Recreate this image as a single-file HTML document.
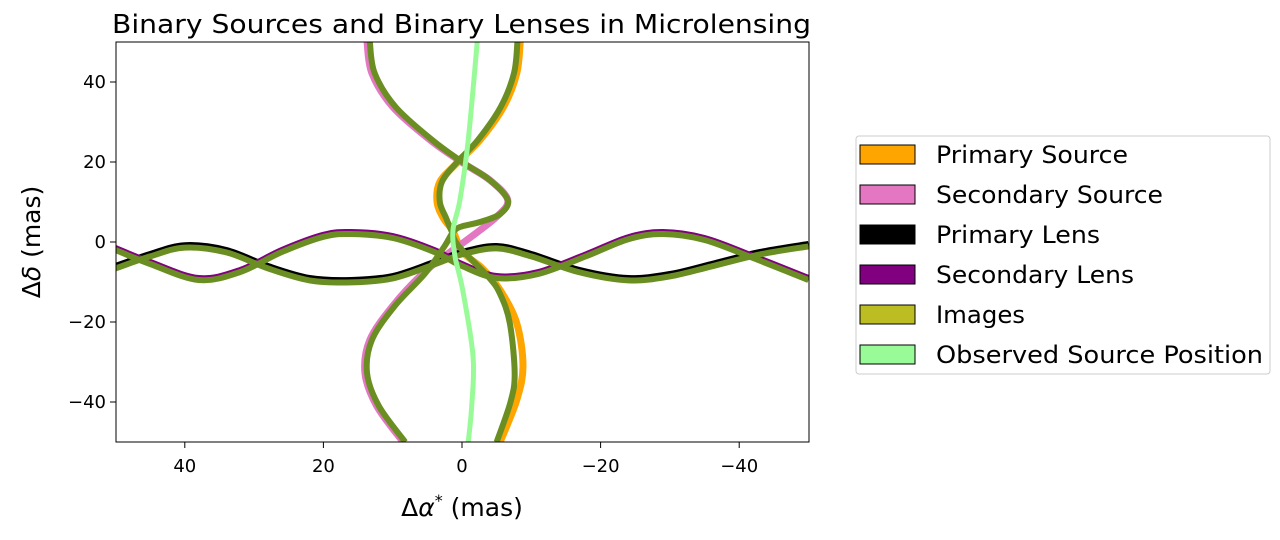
<!DOCTYPE html>
<html><head><meta charset="utf-8"><style>
body{margin:0;background:#fff;font-family:"Liberation Sans","DejaVu Sans",sans-serif;}
</style></head><body>
<svg id="c" width="1280" height="535" xmlns="http://www.w3.org/2000/svg" style="font-family:'DejaVu Sans','Liberation Sans',sans-serif">
<text x="112" y="33" font-size="26" fill="#000" textLength="699" lengthAdjust="spacingAndGlyphs">Binary Sources and Binary Lenses in Microlensing</text>
<g id="plot"></g>
<g id="axes"></g>
<g font-size="24">
<rect x="856" y="136" width="414" height="238" fill="#fff" stroke="#ccc" rx="3"/>
<g><rect x="860" y="145" width="55" height="19" fill="#ffa500" stroke="#000"/><text x="936" y="163" textLength="192" lengthAdjust="spacingAndGlyphs">Primary Source</text></g>
<g><rect x="860" y="185" width="55" height="19" fill="#e377c2" stroke="#000"/><text x="936" y="203" textLength="227" lengthAdjust="spacingAndGlyphs">Secondary Source</text></g>
<g><rect x="860" y="225" width="55" height="19" fill="#000" stroke="#000"/><text x="936" y="243" textLength="164" lengthAdjust="spacingAndGlyphs">Primary Lens</text></g>
<g><rect x="860" y="265" width="55" height="19" fill="#800080" stroke="#000"/><text x="936" y="283" textLength="198" lengthAdjust="spacingAndGlyphs">Secondary Lens</text></g>
<g><rect x="860" y="305" width="55" height="19" fill="#bcbd22" stroke="#000"/><text x="936" y="323" textLength="89" lengthAdjust="spacingAndGlyphs">Images</text></g>
<g><rect x="860" y="345" width="55" height="19" fill="#98fb98" stroke="#000"/><text x="936" y="363" textLength="327" lengthAdjust="spacingAndGlyphs">Observed Source Position</text></g>
</g>
</svg>
<script>
const xTicks=[40,20,0,-20,-40];
const yTicks=[40,20,0,-20,-40];
// [x,y] data points (mas)
const primaryLens=[[50,-6],[45,-3],[40,-0.8],[34,-2],[28,-6],[22,-9],[16,-9.5],[10,-8.5],[4,-5],[0,-2.5],[-5,-1],[-10,-3],[-17,-7],[-24,-9],[-30,-8],[-36,-5.5],[-43,-2.5],[-50,-0.5]];
const secondaryLens=[[50,-1.5],[45,-5],[38,-9],[32,-7],[26,-2],[20,1.8],[16,2.5],[10,1.5],[4,-2],[0,-5.5],[-5,-8.5],[-11,-7.5],[-18,-3],[-24,1.2],[-29,2.5],[-35,1],[-42,-3.5],[-50,-9]];
const primarySource=[[-8.4,50],[-7.9,42.2],[-6,33.8],[-2.6,25.5],[0.7,19.8],[3.2,15],[3.6,10],[2.7,6],[1.3,2.7],[-0.1,-2.5],[-3,-6.7],[-5.5,-12],[-7.9,-20.3],[-8.8,-31],[-7.9,-39.5],[-5.5,-50]];
const secondarySource=[[13.7,50],[13,42.2],[10,33.8],[4.6,25.5],[-0.1,19.8],[-4,15.5],[-6.6,10.5],[-5,6.3],[-0.7,0.5],[1.7,-2.5],[5.6,-7.8],[10,-16],[13.3,-24.5],[14,-32.8],[12.3,-41],[8.5,-50]];
const observedSource=[[-2.2,50],[-0.9,25.5],[0.3,10.5],[1.3,3],[1,-3.7],[-0.1,-12],[-1.6,-28.7],[-1.4,-41],[-0.9,-50]];
const imagesA=[[13.3,50],[12.6,42.2],[9.6,33.8],[4.3,25.5],[-0.2,19.8],[-4,15.5],[-6.6,10.5],[-5.5,7],[-2.6,5],[0.3,3.75],[1.4,2.2],[2.5,-1],[5.3,-7.8],[9.7,-16],[13,-24.5],[13.7,-32.8],[12,-41],[8.2,-50]];
const imagesB=[[-8,50],[-7.5,42.2],[-5.6,33.8],[-2.3,25.5],[0.8,19.8],[2.9,15],[3.2,10],[2.3,6],[1.5,2.7],[0.5,-1],[-3.8,-8.7],[-5.5,-13],[-6.9,-20.3],[-7.6,-32.8],[-7,-40],[-5,-50]];
const X0=462,SX=6.93,Y0=242,SY=4;
const sx=v=>X0-SX*v, sy=v=>Y0-SY*v;
const NS="http://www.w3.org/2000/svg";
function path(pts){
 const p=pts.map(d=>[sx(d[0]),sy(d[1])]);
 let s="M"+p[0][0]+","+p[0][1];
 for(let i=0;i<p.length-1;i++){
  const a=p[i-1]||p[i],b=p[i],c=p[i+1],d=p[i+2]||c;
  s+=" C"+(b[0]+(c[0]-a[0])/6)+","+(b[1]+(c[1]-a[1])/6)+" "+(c[0]-(d[0]-b[0])/6)+","+(c[1]-(d[1]-b[1])/6)+" "+c[0]+","+c[1];
 }
 return s;
}
const plot=document.getElementById('plot');
const clip=document.createElementNS(NS,'clipPath');clip.id='cp';
const cr=document.createElementNS(NS,'rect');cr.setAttribute('x',116);cr.setAttribute('y',42);cr.setAttribute('width',693);cr.setAttribute('height',400);
clip.appendChild(cr);document.getElementById('c').appendChild(clip);
plot.setAttribute('clip-path','url(#cp)');
function line(pts,col,w,name){
 const e=document.createElementNS(NS,'path');
 e.setAttribute('d',path(pts));e.setAttribute('fill','none');e.setAttribute('stroke',col);e.setAttribute('stroke-width',w);
 
 
 plot.appendChild(e);
}
line(primarySource,'#ffa500',7,'primary-source-track');
line(secondarySource,'#e377c2',7,'secondary-source-track');
line(primaryLens,'#000',6,'primary-lens-track');
line(secondaryLens,'#800080',6,'secondary-lens-track');
line(primaryLens.map(d=>[d[0],d[1]-0.6]),'#6b8e23',6,'images-track-lens1');
line(secondaryLens.map(d=>[d[0],d[1]-0.5]),'#6b8e23',6,'images-track-lens2');
line(imagesA,'#6b8e23',6,'images-track-a');
line(imagesB,'#6b8e23',6,'images-track-b');
line(observedSource,'#98fb98',5,'observed-source-track');
const ax=document.getElementById('axes');
const fr=document.createElementNS(NS,'rect');
fr.setAttribute('x',116);fr.setAttribute('y',42);fr.setAttribute('width',693);fr.setAttribute('height',400);fr.setAttribute('fill','none');fr.setAttribute('stroke','#000');fr.setAttribute('stroke-width',1);


ax.appendChild(fr);
const fmt=v=>v<0?"\u2212"+(-v):""+v;
xTicks.forEach(v=>{
 const t=document.createElementNS(NS,'line');t.setAttribute('x1',sx(v));t.setAttribute('x2',sx(v));t.setAttribute('y1',442);t.setAttribute('y2',448);t.setAttribute('stroke','#000');
 
 
 ax.appendChild(t);
 const l=document.createElementNS(NS,'text');l.setAttribute('x',sx(v));l.setAttribute('y',472);l.setAttribute('text-anchor','middle');l.setAttribute('font-size',18);l.textContent=fmt(v);
 
 
 ax.appendChild(l);
});
yTicks.forEach(v=>{
 const t=document.createElementNS(NS,'line');t.setAttribute('x1',110);t.setAttribute('x2',116);t.setAttribute('y1',sy(v));t.setAttribute('y2',sy(v));t.setAttribute('stroke','#000');
 
 
 ax.appendChild(t);
 const l=document.createElementNS(NS,'text');l.setAttribute('x',106);l.setAttribute('y',sy(v)+6);l.setAttribute('text-anchor','end');l.setAttribute('font-size',18);l.textContent=fmt(v);
 
 
 ax.appendChild(l);
});
const xl=document.createElementNS(NS,'text');xl.setAttribute('x',462);xl.setAttribute('y',516);xl.setAttribute('text-anchor','middle');xl.setAttribute('font-size',25);
xl.innerHTML='Δ<tspan font-style="italic">α</tspan><tspan dy="-10" font-size="16">*</tspan><tspan dy="10"> (mas)</tspan>';


ax.appendChild(xl);
const yl=document.createElementNS(NS,'text');yl.setAttribute('transform','translate(40,242) rotate(-90)');yl.setAttribute('text-anchor','middle');yl.setAttribute('font-size',25);
yl.innerHTML='Δ<tspan font-style="italic">δ</tspan> (mas)';


ax.appendChild(yl);
</script>
</body></html>
